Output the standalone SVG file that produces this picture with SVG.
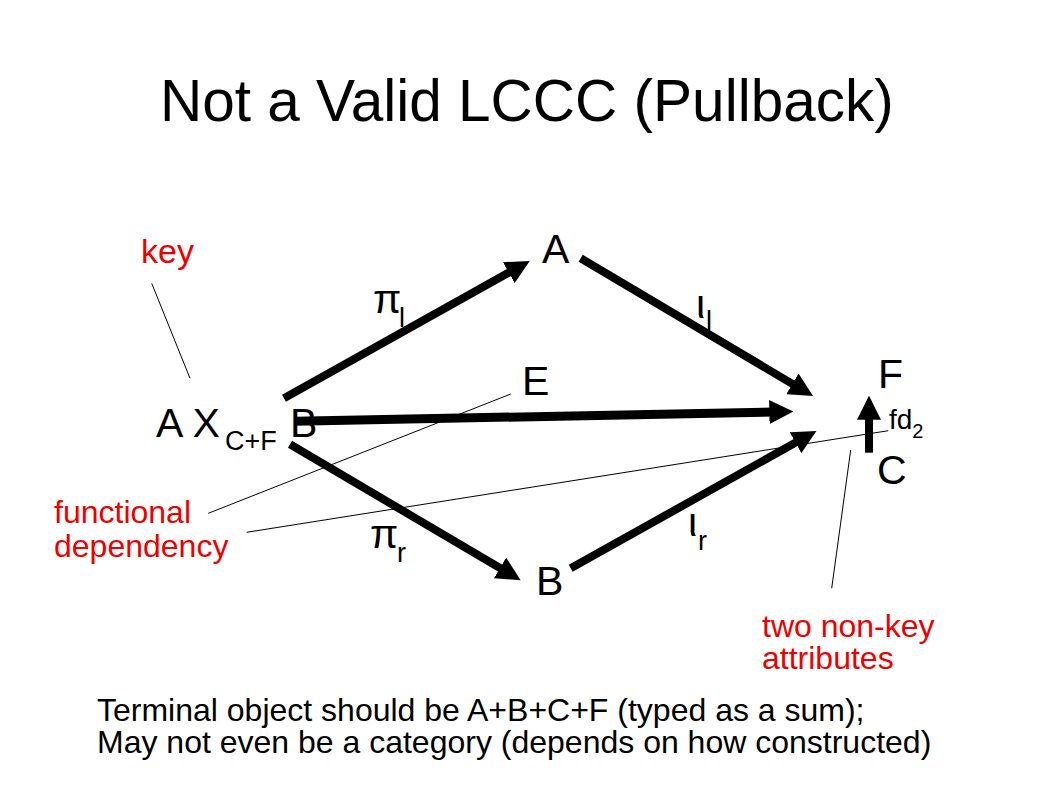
<svg xmlns="http://www.w3.org/2000/svg" width="1058" height="793" viewBox="0 0 1058 793">
<style>
text{font-family:"Liberation Sans",Arial,sans-serif;fill:#000}
.title{font-size:58.5px}
.node{font-size:41px}
.sub{font-size:27px}
.note{font-size:32px;fill:#ee0000}
.foot{font-size:32px}
.arr{stroke:#000;stroke-width:8;fill:none;marker-end:url(#ah)}
.lead{stroke:#000;stroke-width:1;fill:none}
</style>
<defs>
<marker id="ah" markerUnits="userSpaceOnUse" markerWidth="24" markerHeight="24" refX="4" refY="11" orient="auto" viewBox="0 0 22 22">
<path d="M0,0 L22,11 L0,22 z" fill="#000"/>
</marker>
</defs>
<rect width="1058" height="793" fill="#fff"/>
<text class="title" x="160" y="121">Not a Valid LCCC (Pullback)</text>

<g id="node-AxB"><text class="node" x="156" y="437">A X<tspan class="sub" x="225" y="450">C+F</tspan><tspan x="290" y="437">B</tspan></text></g>
<g id="node-A"><text class="node" x="542" y="263">A</text></g>
<g id="node-E"><text class="node" x="522" y="395">E</text></g>
<g id="node-B"><text class="node" x="536" y="595">B</text></g>
<g id="node-F"><text class="node" x="878" y="388">F</text></g>
<g id="node-C"><text class="node" x="877" y="484">C</text></g>

<g id="connectors">
<line class="arr" x1="284" y1="398.3" x2="512.6" y2="270.5"/>
<line class="arr" x1="580.7" y1="258.3" x2="796.2" y2="386.1"/>
<line class="arr" style="stroke-width:9" x1="295" y1="421.3" x2="773.7" y2="412"/>
<line class="arr" x1="570.7" y1="568.3" x2="799.3" y2="440.5"/>
<line class="arr" x1="290" y1="444.3" x2="503.8" y2="570.2"/>
<line class="arr" x1="869" y1="452.7" x2="869" y2="415.3"/>
<line class="lead" x1="151.7" y1="283.3" x2="190" y2="378.3"/>
<line class="lead" x1="208.3" y1="513.3" x2="510.7" y2="394"/>
<line class="lead" x1="246.7" y1="532.3" x2="888.3" y2="430.7"/>
<line class="lead" x1="831.7" y1="588.3" x2="850.7" y2="450"/>
</g>

<g id="labels">
<text class="node" x="373" y="313">π<tspan class="sub" x="399" y="327">l</tspan></text>
<text class="node" x="696" y="318">ι<tspan class="sub" x="706" y="330">l</tspan></text>
<text class="node" x="370" y="548">π<tspan class="sub" x="397" y="562">r</tspan></text>
<text class="node" x="688" y="536">ι<tspan class="sub" x="698" y="550">r</tspan></text>
<text style="font-size:28px" x="889" y="429">fd<tspan style="font-size:20px" y="438">2</tspan></text>
</g>

<g id="notes">
<text class="note" style="font-size:34px" x="141" y="263">key</text>
<text class="note" x="54" y="523">functional</text>
<text class="note" x="54" y="557">dependency</text>
<text class="note" x="762" y="637">two non-key</text>
<text class="note" x="762" y="669">attributes</text>
</g>

<g id="footer">
<text class="foot" x="97" y="721">Terminal object should be A+B+C+F (typed as a sum);</text>
<text class="foot" x="97" y="753">May not even be a category (depends on how constructed)</text>
</g>
</svg>
